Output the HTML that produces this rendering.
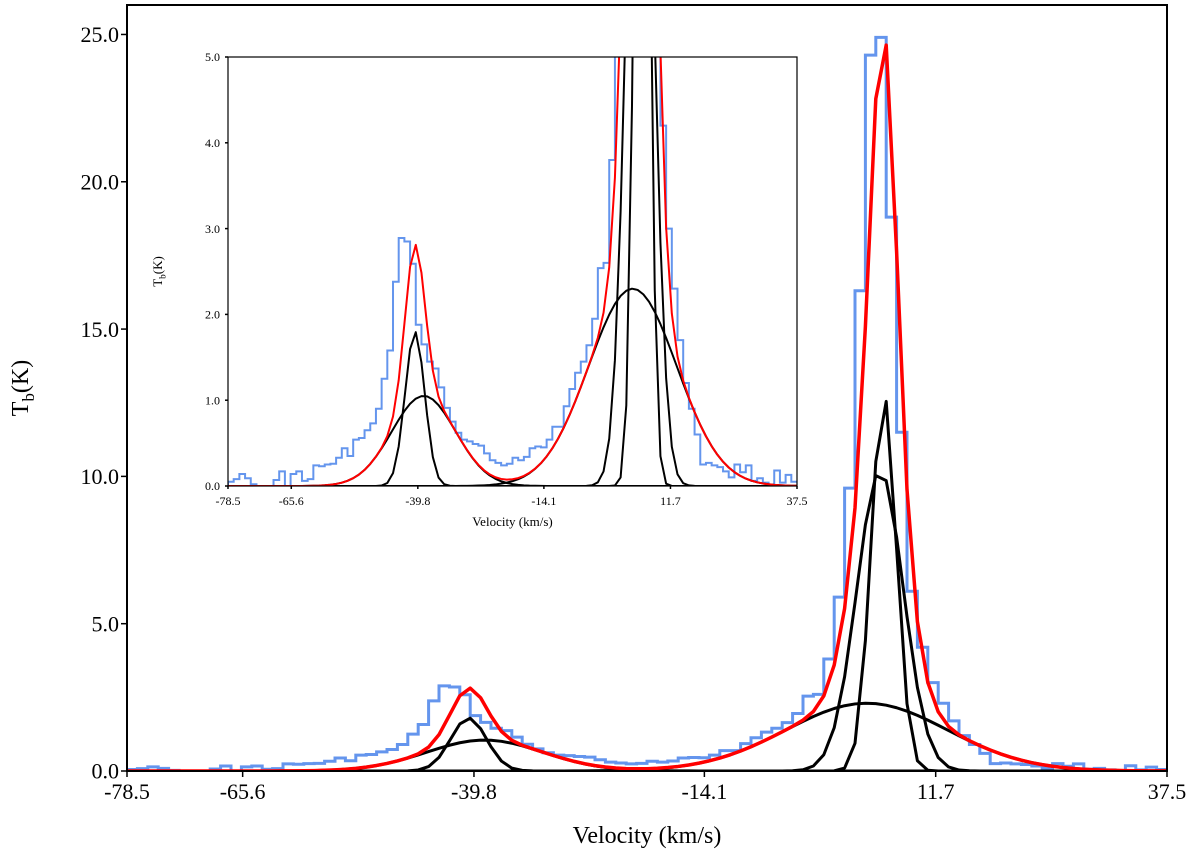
<!DOCTYPE html>
<html><head><meta charset="utf-8">
<style>
html,body{margin:0;padding:0;background:#fff;}
svg{display:block;font-family:"Liberation Serif",serif;}
</style></head>
<body>
<svg id="chart" width="1200" height="861" viewBox="0 0 1200 861" xmlns="http://www.w3.org/2000/svg"></svg>
<script>
// ---- data ----
const binStart = -78.5;
const binWidth = 1.16;
const observedTb = [0.05,0.08,0.14,0.09,0.02,0.0,0.0,0.0,0.07,0.17,0.0,0.14,0.17,0.06,0.08,0.24,0.23,0.25,0.26,0.33,0.44,
 0.35,0.54,0.56,0.65,0.73,0.9,1.25,1.58,2.38,2.89,2.85,2.59,1.88,1.65,1.45,1.37,1.15,0.91,0.75,0.62,
 0.54,0.52,0.49,0.47,0.38,0.3,0.27,0.24,0.26,0.33,0.3,0.34,0.44,0.46,0.45,0.54,0.69,0.69,0.93,1.13,
 1.32,1.45,1.64,1.95,2.54,2.6,3.8,5.9,9.6,16.3,24.3,24.9,18.8,11.5,6.1,4.2,3.0,2.3,1.7,1.2,
 0.9,0.6,0.25,0.27,0.24,0.22,0.17,0.1,0.25,0.16,0.24,0.06,0.09,0.04,0.01,0.18,0.04,0.13,0.05];
const compAmp = [1.8, 1.05, 2.3, 10.2, 12.8];
const compMu  = [-40.4, -38.6, 4.0, 5.5, 5.9];
const compSig = [2.0, 6.5, 9.0, 2.6, 1.4];
const xTicks = [-78.5, -65.6, -39.8, -14.1, 11.7, 37.5];
const xTickLabels = ["-78.5","-65.6","-39.8","-14.1","11.7","37.5"];
const yTicksMain = [0, 5, 10, 15, 20, 25];
const yTickLabelsMain = ["0.0","5.0","10.0","15.0","20.0","25.0"];
const yTicksInset = [0, 1, 2, 3, 4, 5];
const yTickLabelsInset = ["0.0","1.0","2.0","3.0","4.0","5.0"];

const NS = "http://www.w3.org/2000/svg";
const svg = document.getElementById("chart");
function el(tag, attrs, parent){
  const e = document.createElementNS(NS, tag);
  for (const k in attrs) e.setAttribute(k, attrs[k]);
  (parent||svg).appendChild(e);
  return e;
}
function gauss(v,i){ return compAmp[i]*Math.exp(-Math.pow(v-compMu[i],2)/(2*compSig[i]*compSig[i])); }

function drawPanel(p){
  const sx = v => p.x0 + (v - (-78.5)) / 116 * (p.x1 - p.x0);
  const sy = t => p.y0 - t / p.ymax * (p.y0 - p.y1);
  const g = el("g", {});
  
  
  const cid = p.name + "-clip";
  const defs = el("defs", {}, g);
  const cp = el("clipPath", {id: cid}, defs);
  el("rect", {x: p.x0, y: p.y1, width: p.x1-p.x0, height: p.y0-p.y1}, cp);
  el("rect", {x: p.x0, y: p.y1, width: p.x1-p.x0, height: p.y0-p.y1, fill: "#fff"}, g);
  const plot = el("g", {"clip-path": "url(#"+cid+")"}, g);
  let d = "M" + sx(binStart) + "," + sy(0);
  for (let i = 0; i < observedTb.length; i++){
    const a = binStart + i*binWidth, b = a + binWidth;
    d += " L" + sx(a).toFixed(2) + "," + sy(observedTb[i]).toFixed(2) + " L" + sx(b).toFixed(2) + "," + sy(observedTb[i]).toFixed(2);
  }
  const hist = el("path", {d: d, fill: "none", stroke: "#6495ED", "stroke-width": p.lwHist}, plot);
  
  
  for (let c = 0; c < compAmp.length; c++){
    let pts = [];
    for (let i = 0; i <= 100; i++){ const v = binStart + i*binWidth; pts.push(sx(v).toFixed(2)+","+sy(gauss(v,c)).toFixed(2)); }
    const pl = el("polyline", {points: pts.join(" "), fill: "none", stroke: "#000", "stroke-width": p.lwComp, "stroke-linejoin": "round"}, plot);
    
    
  }
  let pts = [];
  for (let i = 0; i <= 100; i++){
    const v = binStart + i*binWidth; let s = 0;
    for (let c = 0; c < compAmp.length; c++) s += gauss(v,c);
    pts.push(sx(v).toFixed(2)+","+sy(s).toFixed(2));
  }
  const fit = el("polyline", {points: pts.join(" "), fill: "none", stroke: "#f00", "stroke-width": p.lwFit, "stroke-linejoin": "round"}, plot);
  
  
  const fr = el("rect", {x: p.x0, y: p.y1, width: p.x1-p.x0, height: p.y0-p.y1, fill: "none", stroke: "#000", "stroke-width": p.lwFrame}, g);
  
  
  for (let i = 0; i < xTicks.length; i++){
    const x = sx(xTicks[i]);
    el("line", {x1: x, x2: x, y1: p.y0, y2: p.y0 + p.tick, stroke: "#000", "stroke-width": 1.5}, g);
    const t = el("text", {x: x, y: p.y0 + p.xlabOff, "font-size": p.fs, "text-anchor": "middle"}, g);
    t.textContent = xTickLabels[i];
    
    
  }
  for (let i = 0; i < p.yt.length; i++){
    const y = sy(p.yt[i]);
    el("line", {x1: p.x0 - p.tick, x2: p.x0, y1: y, y2: y, stroke: "#000", "stroke-width": 1.5}, g);
    const t = el("text", {x: p.x0 - p.ylabOff, y: y + p.fs*0.35, "font-size": p.fs, "text-anchor": "end"}, g);
    t.textContent = p.ytl[i];
    
    
  }
  const xt = el("text", {x: (p.x0+p.x1)/2, y: p.xTitleY, "font-size": p.fsTitle, "text-anchor": "middle"}, g);
  xt.textContent = "Velocity (km/s)";
  
  
  const yt = el("text", {x: 0, y: 0, "font-size": p.fsTitle, "text-anchor": "middle", transform: "translate(" + p.yTitleX + "," + ((p.y0+p.y1)/2) + ") rotate(-90)"}, g);
  yt.innerHTML = 'T<tspan font-size="' + (p.fsTitle*0.7) + '" dy="' + (p.fsTitle*0.25) + '">b</tspan><tspan dy="' + (-p.fsTitle*0.25) + '">(K)</tspan>';
  
  
}

drawPanel({name:"main-panel", x0:127, x1:1167, y0:771, y1:5, ymax:26.0, yt:yTicksMain, ytl:yTickLabelsMain,
  lwHist:3, lwComp:3, lwFit:3.5, lwFrame:2, tick:6, fs:22, xlabOff:28, ylabOff:8, fsTitle:24, xTitleY:843, yTitleX:28});
drawPanel({name:"inset-panel", x0:228, x1:797, y0:486, y1:57, ymax:5.0, yt:yTicksInset, ytl:yTickLabelsInset,
  lwHist:2, lwComp:2, lwFit:2, lwFrame:1.2, tick:3, fs:12, xlabOff:19, ylabOff:8, fsTitle:13, xTitleY:526, yTitleX:162});
</script>
</body></html>
